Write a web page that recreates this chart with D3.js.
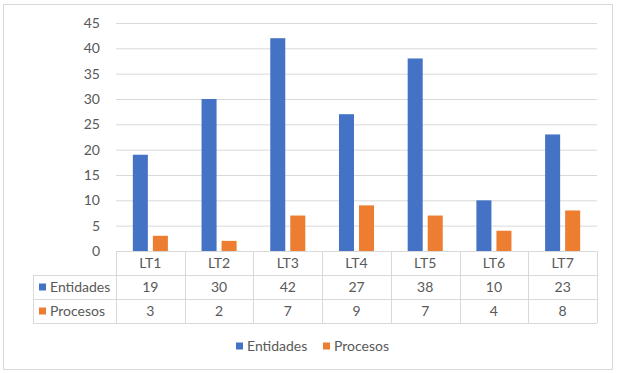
<!DOCTYPE html>
<html><head><meta charset="utf-8">
<script src="https://cdn.jsdelivr.net/npm/d3@7"></script>
<style>body{margin:0;background:#fff}svg{display:block}text{font-family:Lato,"Open Sans",sans-serif;fill:#595959}</style>
</head><body><svg id="c" width="620" height="373"></svg>
<script>
const categories = ["LT1","LT2","LT3","LT4","LT5","LT6","LT7"];
const seriesNames = ["Entidades","Procesos"];
const entidades = [19,30,42,27,38,10,23];
const procesos = [3,2,7,9,7,4,8];
const yTicks = [0,5,10,15,20,25,30,35,40,45];
const colors = ["#4472C4","#ED7D31"];
const series = [entidades, procesos];
const fs = "14px";

const svg = d3.select("#c");
svg.append("rect").attr("x",3.5).attr("y",4.5).attr("width",609).attr("height",365)
  .attr("fill","#fff").attr("stroke","#d9d9d9");

const L=116, R=597, T=23, B=251;
const x = d3.scaleBand().domain(categories).range([L,R]).paddingInner(0).paddingOuter(0);
const y = d3.scaleLinear().domain([0,45]).range([B,T]);
const x1 = d3.scaleBand().domain(seriesNames).range([0,x.bandwidth()]).paddingInner(0.25).paddingOuter(0.84);

// gridlines
const yAxis = d3.axisLeft(y).tickValues(yTicks).tickSize(-(R-L)).tickPadding(16);
const ga = svg.append("g").attr("transform",`translate(${L},0)`).call(yAxis);
ga.select(".domain").remove();
ga.selectAll("line").attr("stroke","#d9d9d9");
ga.selectAll("text").style("font-size",fs).attr("fill","#595959");

// bars
seriesNames.forEach((s,si)=>{
  svg.append("g").selectAll("rect").data(series[si]).join("rect")
    .attr("x",(d,i)=>x(categories[i])+x1(s))
    .attr("width",x1.bandwidth())
    .attr("y",d=>y(d)).attr("height",d=>y(0)-y(d))
    .attr("fill",colors[si]);
});

// data table
const rowH = 24, tL = 33;
const tg = svg.append("g");
const lc = "#d9d9d9";
tg.append("line").attr("x1",L).attr("x2",R).attr("y1",B+0.5).attr("y2",B+0.5).attr("stroke",lc);
[1,2,3].forEach(r=>{
  tg.append("line").attr("x1",tL).attr("x2",R).attr("y1",B+r*rowH+0.5).attr("y2",B+r*rowH+0.5).attr("stroke",lc);
});
categories.forEach(c=>{
  const xx = Math.round(x(c))+0.5;
  tg.append("line").attr("x1",xx).attr("x2",xx).attr("y1",B).attr("y2",B+3*rowH).attr("stroke",lc);
});
tg.append("line").attr("x1",R+0.5).attr("x2",R+0.5).attr("y1",B).attr("y2",B+3*rowH).attr("stroke",lc);
tg.append("line").attr("x1",tL+0.5).attr("x2",tL+0.5).attr("y1",B+rowH).attr("y2",B+3*rowH).attr("stroke",lc);

tg.selectAll("text.cat").data(categories).join("text").attr("class","cat")
  .attr("x",d=>x(d)+x.bandwidth()/2).attr("y",B+rowH/2).attr("dy","0.35em")
  .attr("text-anchor","middle").style("font-size",fs).text(d=>d);
seriesNames.forEach((s,si)=>{
  const yy = B+(si+1)*rowH+rowH/2;
  tg.append("rect").attr("x",tL+6).attr("y",yy-3.5).attr("width",7).attr("height",7).attr("fill",colors[si]);
  tg.append("text").attr("x",tL+17).attr("y",yy).attr("dy","0.35em").style("font-size",fs).text(s);
  tg.selectAll(null).data(series[si]).join("text")
    .attr("x",(d,i)=>x(categories[i])+x.bandwidth()/2).attr("y",yy).attr("dy","0.35em")
    .attr("text-anchor","middle").style("font-size",fs).text(d=>d);
});

// legend
const lg = svg.append("g");
const legX = [236,323];
seriesNames.forEach((s,si)=>{
  lg.append("rect").attr("x",legX[si]).attr("y",342.5).attr("width",7).attr("height",7).attr("fill",colors[si]);
  lg.append("text").attr("x",legX[si]+11).attr("y",346).attr("dy","0.35em").style("font-size",fs).text(s);
});
</script></body></html>
